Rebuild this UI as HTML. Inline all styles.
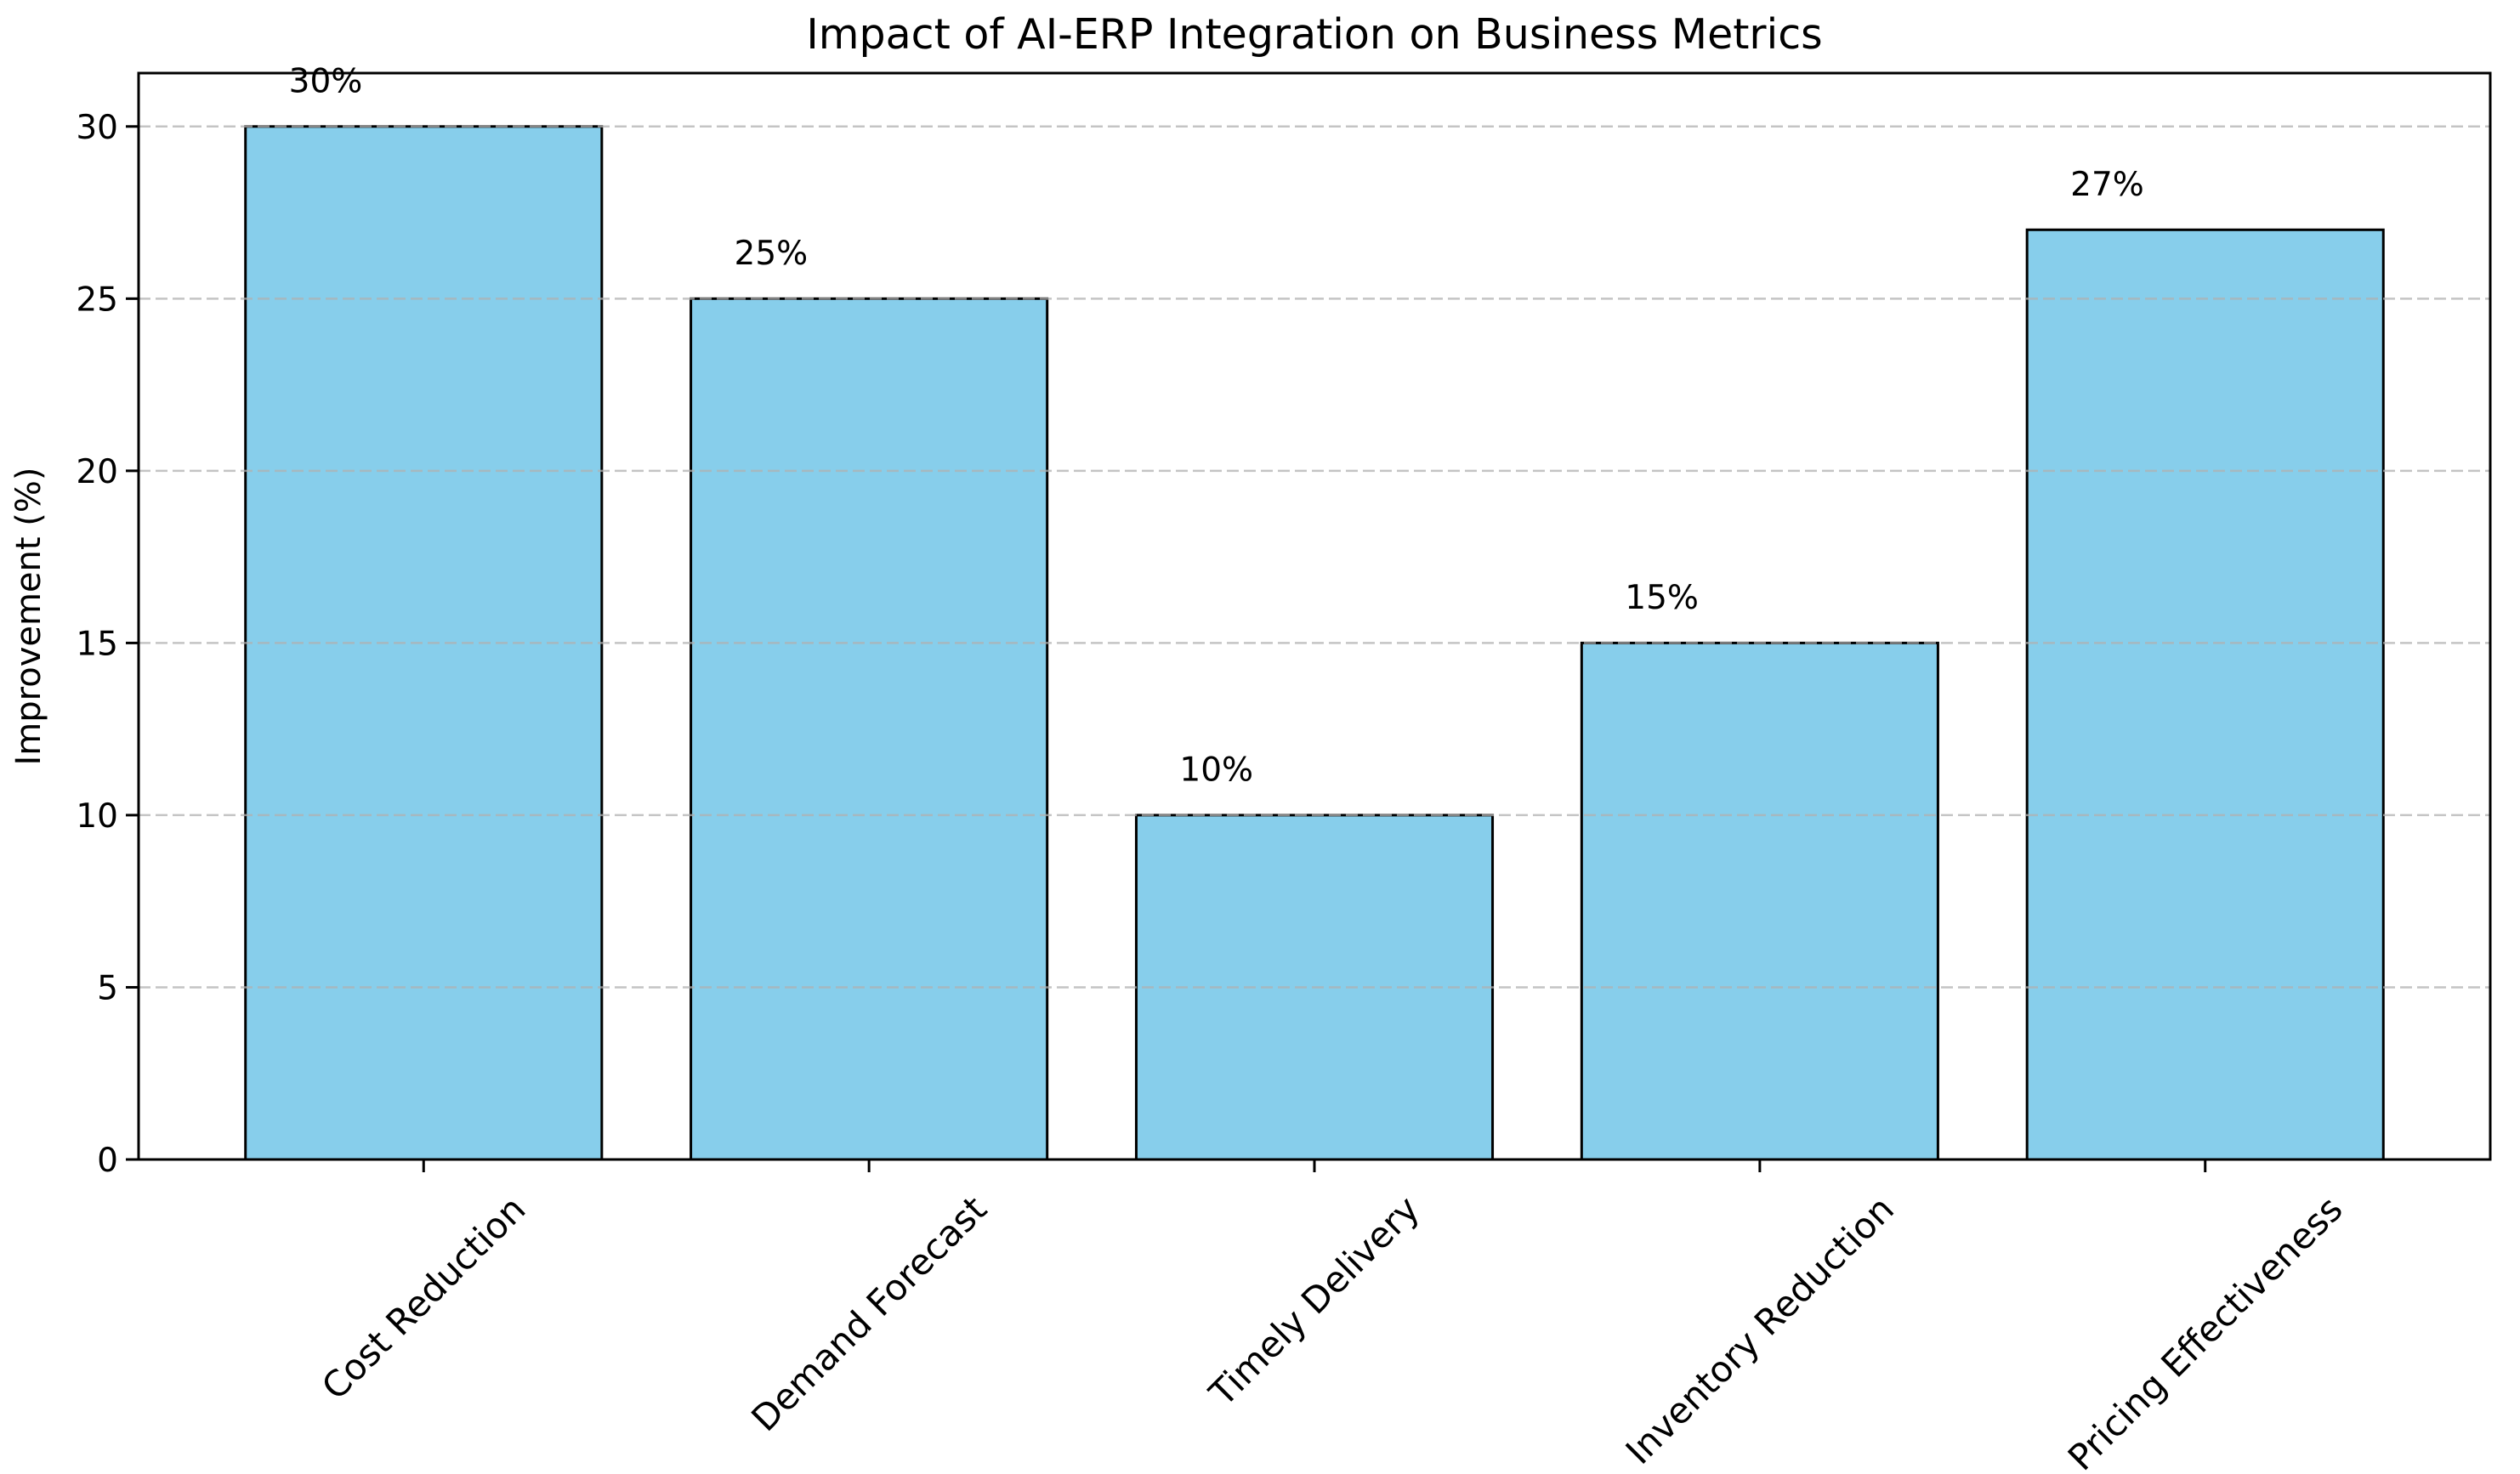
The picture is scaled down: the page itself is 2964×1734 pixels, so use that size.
<!DOCTYPE html>
<html><head><meta charset="utf-8"><style>
html,body{margin:0;padding:0;background:#fff;}
svg{display:block;font-family:"DejaVu Sans","Liberation Sans",sans-serif;}
</style></head><body>
<svg id="chart" width="2964" height="1734" viewBox="0 0 2964 1734" xmlns="http://www.w3.org/2000/svg">
<rect width="2964" height="1734" fill="#fff"/>
<text x="1546" y="57" font-size="49" text-anchor="middle" fill="#000">Impact of AI-ERP Integration on Business Metrics</text>
<text transform="translate(47,725) rotate(-90)" font-size="40" text-anchor="middle" fill="#000">Improvement (%)</text>
<g id="bars"></g><g id="grid"></g><g id="yticks"></g><g id="xticks"></g><g id="vals"></g>
<rect x="163" y="86" width="2766" height="1278" fill="none" stroke="#000" stroke-width="3"/>
</svg>
<script>
const categories = ["Cost Reduction","Demand Forecast","Timely Delivery","Inventory Reduction","Pricing Effectiveness"];
const values = [30,25,10,15,27];
const valueLabels = ["30%","25%","10%","15%","27%"];
const yTicks = [0,5,10,15,20,25,30];

const NS="http://www.w3.org/2000/svg";
const L=163,R=2929,T=86,B=1364;
const yMin=0,yMax=31.55;
const xMin=-0.64,xMax=categories.length-1+0.64;
const X=v=>L+(v-xMin)/(xMax-xMin)*(R-L);
const Y=v=>B-(v-yMin)/(yMax-yMin)*(B-T);
function mk(tag,attrs,parent){const e=document.createElementNS(NS,tag);for(const k in attrs)e.setAttribute(k,attrs[k]);parent.appendChild(e);return e;}
const gb=document.getElementById('bars'),gg=document.getElementById('grid'),gy=document.getElementById('yticks'),gx=document.getElementById('xticks'),gv=document.getElementById('vals');
const bw=0.8;
values.forEach((v,i)=>{
  const x0=X(i-bw/2),x1=X(i+bw/2);
  const r=mk('rect',{x:x0,y:Y(v),width:x1-x0,height:Y(0)-Y(v),fill:'#87ceeb',stroke:'#000','stroke-width':3},gb);
  
  
  const t=mk('text',{x:X(i-bw/2+0.18),y:Y(v+1),'font-size':39,'text-anchor':'middle',fill:'#000'},gv);
  t.textContent=valueLabels[i];
  
  
});
yTicks.forEach(v=>{
  const g=mk('line',{x1:L,x2:R,y1:Y(v),y2:Y(v),stroke:'#b0b0b0','stroke-opacity':0.75,'stroke-width':2.5,'stroke-dasharray':'14 6'},gg);
  
  
  const tk=mk('line',{x1:L-15,x2:L,y1:Y(v),y2:Y(v),stroke:'#000','stroke-width':3},gy);
  
  
  const t=mk('text',{x:L-24,y:Y(v)+14,'font-size':39,'text-anchor':'end',fill:'#000'},gy);
  t.textContent=v;
  
  
});
categories.forEach((c,i)=>{
  const tk=mk('line',{x1:X(i),x2:X(i),y1:B,y2:B+15,stroke:'#000','stroke-width':3},gx);
  
  
  const t=mk('text',{'font-size':42,'text-anchor':'middle','dominant-baseline':'central',fill:'#000'},gx);
  t.textContent=c;
  
  
  const w=t.getComputedTextLength(),h=42;
  const half=(w+h)*Math.SQRT1_2/2;
  t.setAttribute('transform','translate('+X(i)+','+(1400+half)+') rotate(-45)');
});
</script>
</body></html>
